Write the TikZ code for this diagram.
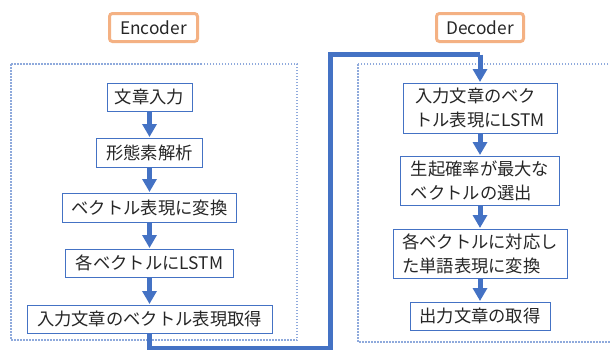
\documentclass[tikz,border=0pt]{standalone}
\usepackage{fontspec}
\setmainfont{Noto Sans CJK JP}
\usetikzlibrary{arrows.meta}
\definecolor{oblue}{HTML}{4472C4}
\definecolor{lblue}{HTML}{8FAADC}
\definecolor{orng}{HTML}{F4B183}
\begin{document}
\begin{tikzpicture}[x=1pt,y=-1pt,
  txt/.style={font=\fontsize{17.3}{24}\selectfont, text=black!85},
  lab/.style={txt, draw=orng, line width=3pt, rounded corners=3pt, fill=white, inner sep=0pt},
  box/.style={txt, draw=oblue, line width=1pt, fill=white, inner sep=0pt, align=left},
  frame/.style={draw=lblue, line width=1.5pt, dash pattern=on 1.5pt off 1.5pt},
  arr/.style={draw=oblue, line width=5pt, -{Triangle[width=14pt,length=13pt]}, shorten >=0.5pt},
  conn/.style={draw=oblue, line width=5pt}
]
\useasboundingbox (0,0) rectangle (610,349);
\fill[white] (0,0) rectangle (610,349);

\draw[frame] (11,64) rectangle (297,340);
\draw[frame] (358,64) rectangle (625,342);

\node[lab, minimum width=88pt, minimum height=28pt] (enc) at (153.5,27.5) {Encoder};
\node[lab, minimum width=87pt, minimum height=28pt] (dec) at (480,27.5) {Decoder};

\node[box, minimum width=85pt, minimum height=28pt] (e1) at (149.5,97) {文章入力};
\node[box, minimum width=106pt, minimum height=29pt] (e2) at (149.5,152.5) {形態素解析};
\node[box, minimum width=174pt, minimum height=29pt] (e3) at (149.5,207.5) {ベクトル表現に変換};
\node[box, minimum width=168pt, minimum height=28pt] (e4) at (149.5,263) {各ベクトルにLSTM};
\node[box, minimum width=245pt, minimum height=28pt] (e5) at (149.5,319) {入力文章のベクトル表現取得};

\node[box, minimum width=154pt, minimum height=50pt] (d1) at (480,108) {入力文章のベク\\トル表現にLSTM};
\node[box, minimum width=159pt, minimum height=49pt] (d2) at (480,180.5) {生起確率が最大な\\ベクトルの選出};
\node[box, minimum width=174pt, minimum height=49pt] (d3) at (480,253.5) {各ベクトルに対応し\\た単語表現に変換};
\node[box, minimum width=140pt, minimum height=28pt] (d4) at (480,316) {出力文章の取得};

\draw[arr] (e1.south) -- (e2.north);
\draw[arr] (e2.south) -- (e3.north);
\draw[arr] (e3.south) -- (e4.north);
\draw[arr] (e4.south) -- (e5.north);

\draw[arr] (d1.south) -- (d2.north);
\draw[arr] (d2.south) -- (d3.north);
\draw[arr] (d3.south) -- (d4.north);

\coordinate (b1) at (149.5,348.5);
\coordinate (b2) at (330.5,348.5);
\coordinate (t1) at (330.5,54.5);
\coordinate (t2) at (480,54.5);
\draw[conn, line join=miter] (e5.south) -- (b1) -- (b2) -- (t1) -- (t2);
\draw[arr] (t2) -- (d1.north);
\end{tikzpicture}
\end{document}
